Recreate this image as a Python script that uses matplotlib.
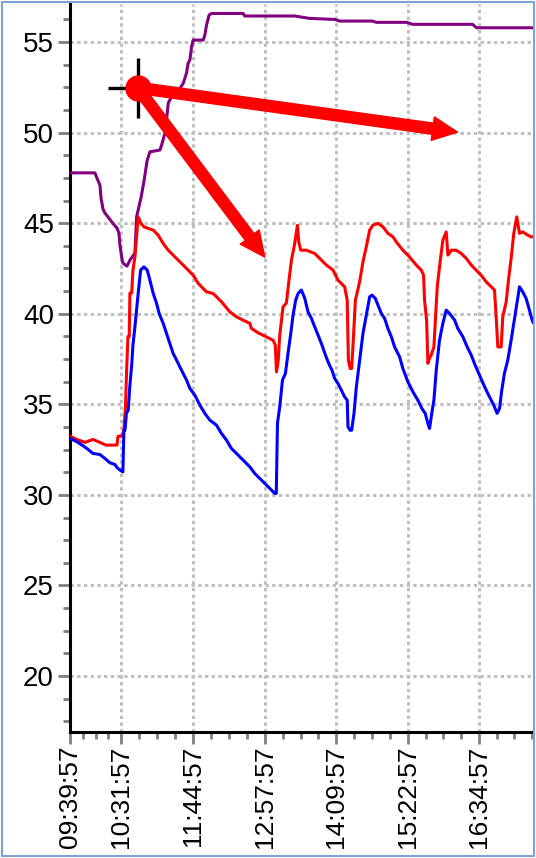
import matplotlib
matplotlib.use('Agg')
import matplotlib.pyplot as plt
from matplotlib.patches import Rectangle
from matplotlib.ticker import AutoMinorLocator, FixedLocator

# x values are minutes after 09:39:57
START = "09:39:57"
tick_labels = ["09:39:57", "10:31:57", "11:44:57", "12:57:57",
               "14:09:57", "15:22:57", "16:34:57"]
x_end = 470

purple_t = [0, 25.3, 27.4, 30.4, 31.5, 33.5, 35.5, 38.5, 42.6, 47.7,
            49.7, 50.7, 52.4, 53.7, 57.8, 60.8, 65.9, 67.6, 72.0, 75.0,
            78.4, 81.1, 91.3, 93.0, 96.3, 98.0, 99.7, 103.1, 111.5, 114.9,
            118.3, 119.9, 121.7, 123.4, 125.0, 135.2, 136.9, 138.6, 141.2, 143.7,
            175.7, 177.4, 228.0, 243.0, 268.7, 273.8, 307.0, 311.0, 341.7, 347.8,
            408.6, 412.7, 470]
purple_v = [47.78, 47.78, 47.49, 47.10, 46.39, 45.78, 45.56, 45.35, 45.06, 44.73,
            44.45, 43.79, 43.14, 42.80, 42.63, 42.96, 43.35, 45.35, 46.39, 47.29,
            48.48, 48.94, 49.04, 49.31, 49.96, 50.69, 51.63, 51.98, 52.44, 52.72,
            53.29, 53.84, 54.01, 54.74, 55.11, 55.11, 55.39, 55.94, 56.49, 56.58,
            56.58, 56.44, 56.44, 56.31, 56.25, 56.16, 56.16, 56.09, 56.09, 55.98,
            55.98, 55.79, 55.79]

red_t = [0, 7.1, 15.2, 23.3, 30.4, 36.5, 47.7, 48.7, 52.7, 54.7,
         56.3, 57.5, 58.8, 60.1, 60.8, 62.6, 63.9, 65.9, 69.2, 72.0,
         75.0, 79.4, 84.5, 89.5, 94.6, 99.7, 104.7, 111.5, 118.3, 125.0,
         130.1, 138.6, 145.3, 153.8, 162.2, 169.0, 175.7, 182.5, 184.2, 190.9,
         197.7, 206.1, 208.4, 209.6, 211.4, 212.9, 216.3, 219.7, 222.3, 224.8,
         228.1, 230.9, 232.2, 234.2, 240.0, 248.4, 255.2, 260.3, 267.0, 272.0,
         278.8, 281.4, 282.6, 284.4, 285.9, 287.2, 289.7, 294.0, 297.4, 300.8,
         304.2, 307.5, 312.6, 317.7, 322.7, 327.8, 331.2, 337.9, 344.7, 351.5,
         356.6, 358.9, 359.9, 362.0, 363.3, 365.0, 366.7, 369.4, 372.8, 375.1,
         378.5, 381.9, 383.6, 387.0, 392.1, 397.1, 402.2, 407.3, 412.3, 417.4,
         422.5, 427.6, 430.9, 432.6, 434.3, 437.7, 439.3, 442.8, 445.1, 447.8,
         450.5, 453.5, 456.3, 459.6, 464.7, 468.1, 470.0]
red_v = [33.24, 33.06, 32.90, 33.06, 32.90, 32.75, 32.75, 33.24, 33.24, 33.57,
         34.86, 36.89, 38.73, 38.73, 41.14, 41.14, 42.41, 43.14, 45.35, 45.00,
         44.80, 44.71, 44.62, 44.34, 43.88, 43.51, 43.24, 42.87, 42.50, 42.13,
         41.68, 41.21, 41.12, 40.66, 40.11, 39.83, 39.65, 39.47, 39.19, 38.95,
         38.77, 38.54, 38.27, 36.79, 37.44, 38.82, 40.38, 40.60, 41.86, 42.96,
         43.88, 44.89, 43.97, 43.51, 43.51, 43.33, 42.96, 42.69, 42.41, 41.86,
         41.49, 40.75, 37.44, 36.98, 36.98, 38.17, 40.75, 41.76, 42.87, 43.70,
         44.62, 44.89, 44.99, 44.80, 44.44, 44.25, 43.97, 43.51, 43.14, 42.69,
         42.41, 42.13, 40.75, 39.65, 37.26, 37.55, 37.72, 38.17, 41.49, 42.59,
         44.07, 44.52, 43.24, 43.51, 43.51, 43.33, 43.06, 42.69, 42.41, 42.13,
         41.76, 41.49, 41.31, 39.83, 38.17, 38.17, 39.83, 40.66, 41.86, 43.06,
         44.44, 45.35, 44.44, 44.52, 44.34, 44.25, 44.25]

blue_t = [0, 7.1, 12.2, 17.2, 23.3, 30.4, 35.5, 40.6, 45.6, 47.7,
          50.7, 53.7, 54.7, 55.8, 57.3, 59.1, 60.8, 62.6, 63.9, 65.9,
          69.2, 71.7, 75.0, 78.4, 81.1, 84.5, 87.9, 90.5, 94.6, 98.0,
          101.4, 104.7, 108.2, 111.5, 114.9, 118.3, 121.7, 126.7, 131.8, 136.9,
          141.9, 148.7, 153.8, 158.9, 163.9, 169.0, 175.7, 182.5, 187.6, 192.6,
          197.7, 202.8, 207.8, 209.4, 210.6, 212.9, 215.7, 218.7, 221.3, 224.1,
          226.4, 229.1, 231.5, 234.9, 238.3, 241.6, 245.1, 248.4, 252.5, 255.8,
          259.3, 262.6, 265.9, 268.7, 272.0, 275.5, 278.8, 281.4, 282.2, 284.4,
          285.9, 288.3, 290.7, 294.0, 297.4, 300.8, 304.2, 306.5, 309.9, 312.6,
          316.0, 319.4, 322.7, 326.2, 329.5, 334.6, 337.9, 343.0, 348.1, 353.1,
          357.2, 360.6, 363.3, 365.0, 366.7, 369.4, 371.8, 375.1, 378.5, 381.9,
          385.3, 390.4, 393.7, 398.8, 403.2, 407.3, 411.3, 415.7, 420.1, 424.1,
          427.6, 430.9, 433.6, 436.0, 438.3, 441.0, 444.4, 447.8, 450.5, 453.2,
          456.3, 459.6, 463.0, 466.4, 469.1, 470.0]
blue_v = [33.12, 32.93, 32.75, 32.56, 32.29, 32.23, 32.01, 31.77, 31.68, 31.51,
          31.37, 31.27, 33.57, 33.57, 34.51, 34.68, 36.06, 37.16, 38.27, 39.28,
          41.12, 42.41, 42.59, 42.41, 41.86, 41.12, 40.57, 40.02, 39.47, 38.91,
          38.36, 37.81, 37.44, 37.07, 36.71, 36.34, 35.88, 35.51, 34.96, 34.50,
          34.13, 33.85, 33.39, 33.02, 32.56, 32.29, 31.92, 31.55, 31.18, 30.91,
          30.63, 30.36, 30.08, 30.08, 33.96, 34.86, 36.34, 36.71, 37.81, 38.91,
          39.92, 40.75, 41.12, 41.31, 40.85, 40.11, 39.74, 39.28, 38.73, 38.27,
          37.72, 37.26, 36.89, 36.43, 36.15, 35.78, 35.41, 35.23, 33.76, 33.57,
          33.57, 34.50, 35.97, 37.44, 38.91, 39.92, 40.94, 41.03, 40.85, 40.48,
          40.02, 39.74, 39.19, 38.73, 38.17, 37.62, 36.98, 36.24, 35.69, 35.23,
          34.77, 34.50, 33.94, 33.67, 34.31, 35.23, 36.89, 38.54, 39.47, 40.20,
          40.02, 39.65, 39.19, 38.73, 38.17, 37.72, 37.16, 36.61, 36.06, 35.60,
          35.23, 34.86, 34.50, 34.77, 35.78, 36.71, 37.44, 38.54, 39.47, 40.38,
          41.49, 41.21, 40.85, 40.20, 39.65, 39.54]

# cursor marker and the two arrows drawn from it
mark_t, mark_v = 68.6, 52.48
arrow_tip_t = [393.4, 197.7]
arrow_tip_v = [50.03, 43.13]


def to_minutes(s):
    h, m, sec = map(int, s.split(':'))
    return h * 60 + m + sec / 60


tick_pos = [to_minutes(s) - to_minutes(START) for s in tick_labels]
minor_pos = []
for a, b in zip(tick_pos[:-1], tick_pos[1:]):
    minor_pos += [a + (b - a) * k / 4 for k in (1, 2, 3)]
minor_pos += [tick_pos[-1] + 18 * k for k in (1, 2, 3)]

plt.rcParams['font.family'] = ['Liberation Sans', 'DejaVu Sans']

fig = plt.figure(figsize=(5.36, 8.58), dpi=100)
ax = fig.add_axes([70 / 536, 1 - 732 / 858, 463 / 536, 728.5 / 858])

ax.plot(purple_t, purple_v, color='#800080', lw=2.2, zorder=3)
ax.plot(red_t, red_v, color='#ff0000', lw=2.2, zorder=3)
ax.plot(blue_t, blue_v, color='#0000ff', lw=2.2, zorder=3)

ax.plot(mark_t, mark_v, marker='+', ms=43, mew=2.4, color='black', zorder=5)
ax.plot(mark_t, mark_v, marker='o', ms=18, color='red', zorder=6)
for tt, tv in zip(arrow_tip_t, arrow_tip_v):
    ax.annotate('', xy=(tt, tv), xytext=(mark_t, mark_v), zorder=6,
                arrowprops=dict(arrowstyle='simple,head_width=0.85,head_length=0.9,tail_width=0.4',
                                mutation_scale=20, color='red', shrinkA=0, shrinkB=0))

ax.set_xlim(0, x_end)
ax.set_ylim(16.91, 57.13)
ax.xaxis.set_major_locator(FixedLocator(tick_pos))
ax.xaxis.set_minor_locator(FixedLocator(minor_pos))
ax.set_xticklabels(tick_labels, rotation=90)
ax.set_yticks([20, 25, 30, 35, 40, 45, 50, 55])
ax.yaxis.set_minor_locator(AutoMinorLocator(4))

ax.grid(True, which='major', color='#c0c0c0', lw=2.2, linestyle=(0, (1.1, 1.1)))
ax.set_axisbelow(True)

for side in ['top', 'right']:
    ax.spines[side].set_visible(False)
for side in ['left', 'bottom']:
    ax.spines[side].set_linewidth(2.2)
    ax.spines[side].set_color('black')

ax.tick_params(which='major', length=8.6, width=2, color='#808080',
               labelsize=20, labelcolor='black', pad=3)
ax.tick_params(axis='x', which='major', labelsize=19, pad=1)
ax.tick_params(which='minor', length=5, width=2, color='#808080')

fig.patches.append(Rectangle((2 / 536, 2 / 858), 532 / 536, 854 / 858,
                             transform=fig.transFigure, fill=False,
                             ec='#7ea3d6', lw=1.5))

fig.savefig('out.png', dpi=100)
